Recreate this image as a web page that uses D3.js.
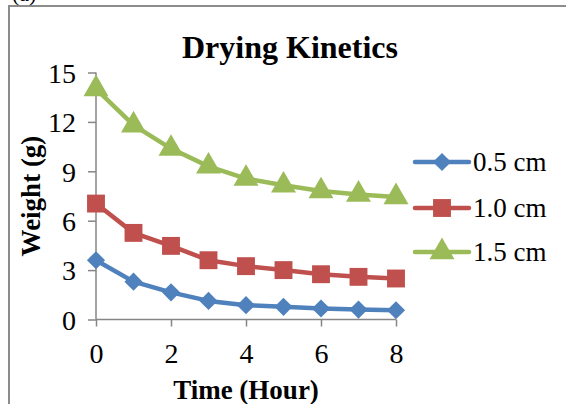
<!DOCTYPE html>
<html><head><meta charset="utf-8">
<script src="https://cdn.jsdelivr.net/npm/d3@7"></script>
<style>body{margin:0;background:#fff}svg{display:block}</style>
</head><body>
<svg id="c" width="566" height="404"></svg>
<script>
const hours = [0,1,2,3,4,5,6,7,8];
const s05 = [3.6,2.3,1.65,1.13,0.87,0.77,0.67,0.6,0.56];
const s10 = [7.04,5.26,4.47,3.6,3.24,3.0,2.75,2.59,2.49];
const s15 = [14.0,11.8,10.38,9.3,8.56,8.15,7.8,7.59,7.44];
const seriesNames = ["0.5 cm","1.0 cm","1.5 cm"];
const seriesColors = ["#4F81BD","#C0504D","#9BBB59"];
const xTicks = [0,2,4,6,8];
const yTicks = [0,3,6,9,12,15];

const svg = d3.select("#c");
const font = "'Liberation Serif','Times New Roman',serif";
const axisColor = "#868686";

// outer frame
svg.append("path").attr("d","M9,404 V6 H566").attr("fill","none").attr("stroke","#8c8c8c").attr("stroke-width",2);
svg.append("text").attr("x",12).attr("y",1).attr("font-family",font).attr("font-size",22).text("(a)");

const x = d3.scaleLinear().domain([0,8]).range([96,396]);
const y = d3.scaleLinear().domain([0,15]).range([319.5,72.5]);

// axes
const yAx = svg.append("g").attr("transform","translate(96,0)")
  .call(d3.axisLeft(y).tickValues(yTicks).tickSize(8).tickPadding(12).tickFormat(d3.format("d")));
const xAx = svg.append("g").attr("transform","translate(0,319.5)")
  .call(d3.axisBottom(x).tickValues(xTicks).tickSize(7).tickPadding(17).tickFormat(d3.format("d")));
[yAx,xAx].forEach(g=>{
  g.select(".domain").attr("stroke",axisColor).attr("stroke-width",1.5);
  g.selectAll(".tick line").attr("stroke",axisColor).attr("stroke-width",1.5);
  g.selectAll("text").attr("font-family",font).attr("font-size",28).attr("fill","#000");
});
yAx.selectAll("text").attr("dy","0.35em");
yAx.select(".domain").attr("d","M0,72.5V319.5");
xAx.select(".domain").attr("d","M96,0H396");

// titles
svg.append("text").attr("x",290).attr("y",58).attr("text-anchor","middle")
  .attr("font-family",font).attr("font-size",32).attr("font-weight","bold").text("Drying Kinetics");
svg.append("text").attr("x",246).attr("y",399).attr("text-anchor","middle")
  .attr("font-family",font).attr("font-size",27).attr("font-weight","bold").text("Time (Hour)");
svg.append("text").attr("transform","translate(40,196) rotate(-90)").attr("text-anchor","middle")
  .attr("font-family",font).attr("font-size",27).attr("font-weight","bold").text("Weight (g)");

const data = [s05,s10,s15];
const symbols = [
  d3.symbol().type(d3.symbolDiamond2).size(210),
  d3.symbol().type(d3.symbolSquare).size(320),
  d3.symbol().type(d3.symbolTriangle).size(270)
];
const line = d3.line().x((d,i)=>x(hours[i])).y(d=>y(d));

data.forEach((vals,k)=>{
  const g = svg.append("g");
  g.append("path").datum(vals).attr("d",line).attr("fill","none")
    .attr("stroke",seriesColors[k]).attr("stroke-width",4.5).attr("stroke-linejoin","round");
  g.selectAll("path.m").data(vals).join("path").attr("class","m")
    .attr("transform",(d,i)=>`translate(${x(hours[i])},${y(d)})`)
    .attr("d",symbols[k]()).attr("fill",seriesColors[k]);
});

// legend
const legY = [162,208,252];
seriesNames.forEach((n,k)=>{
  const g = svg.append("g").attr("transform",`translate(0,${legY[k]})`);
  g.append("line").attr("x1",415).attr("x2",469).attr("y1",0).attr("y2",0)
    .attr("stroke",seriesColors[k]).attr("stroke-width",4.5).attr("stroke-linecap","round");
  g.append("path").attr("transform","translate(442,0)").attr("d",symbols[k]()).attr("fill",seriesColors[k]);
  g.append("text").attr("x",473).attr("y",0).attr("dy","0.35em")
    .attr("font-family",font).attr("font-size",27).text(n);
});
</script>
</body></html>
